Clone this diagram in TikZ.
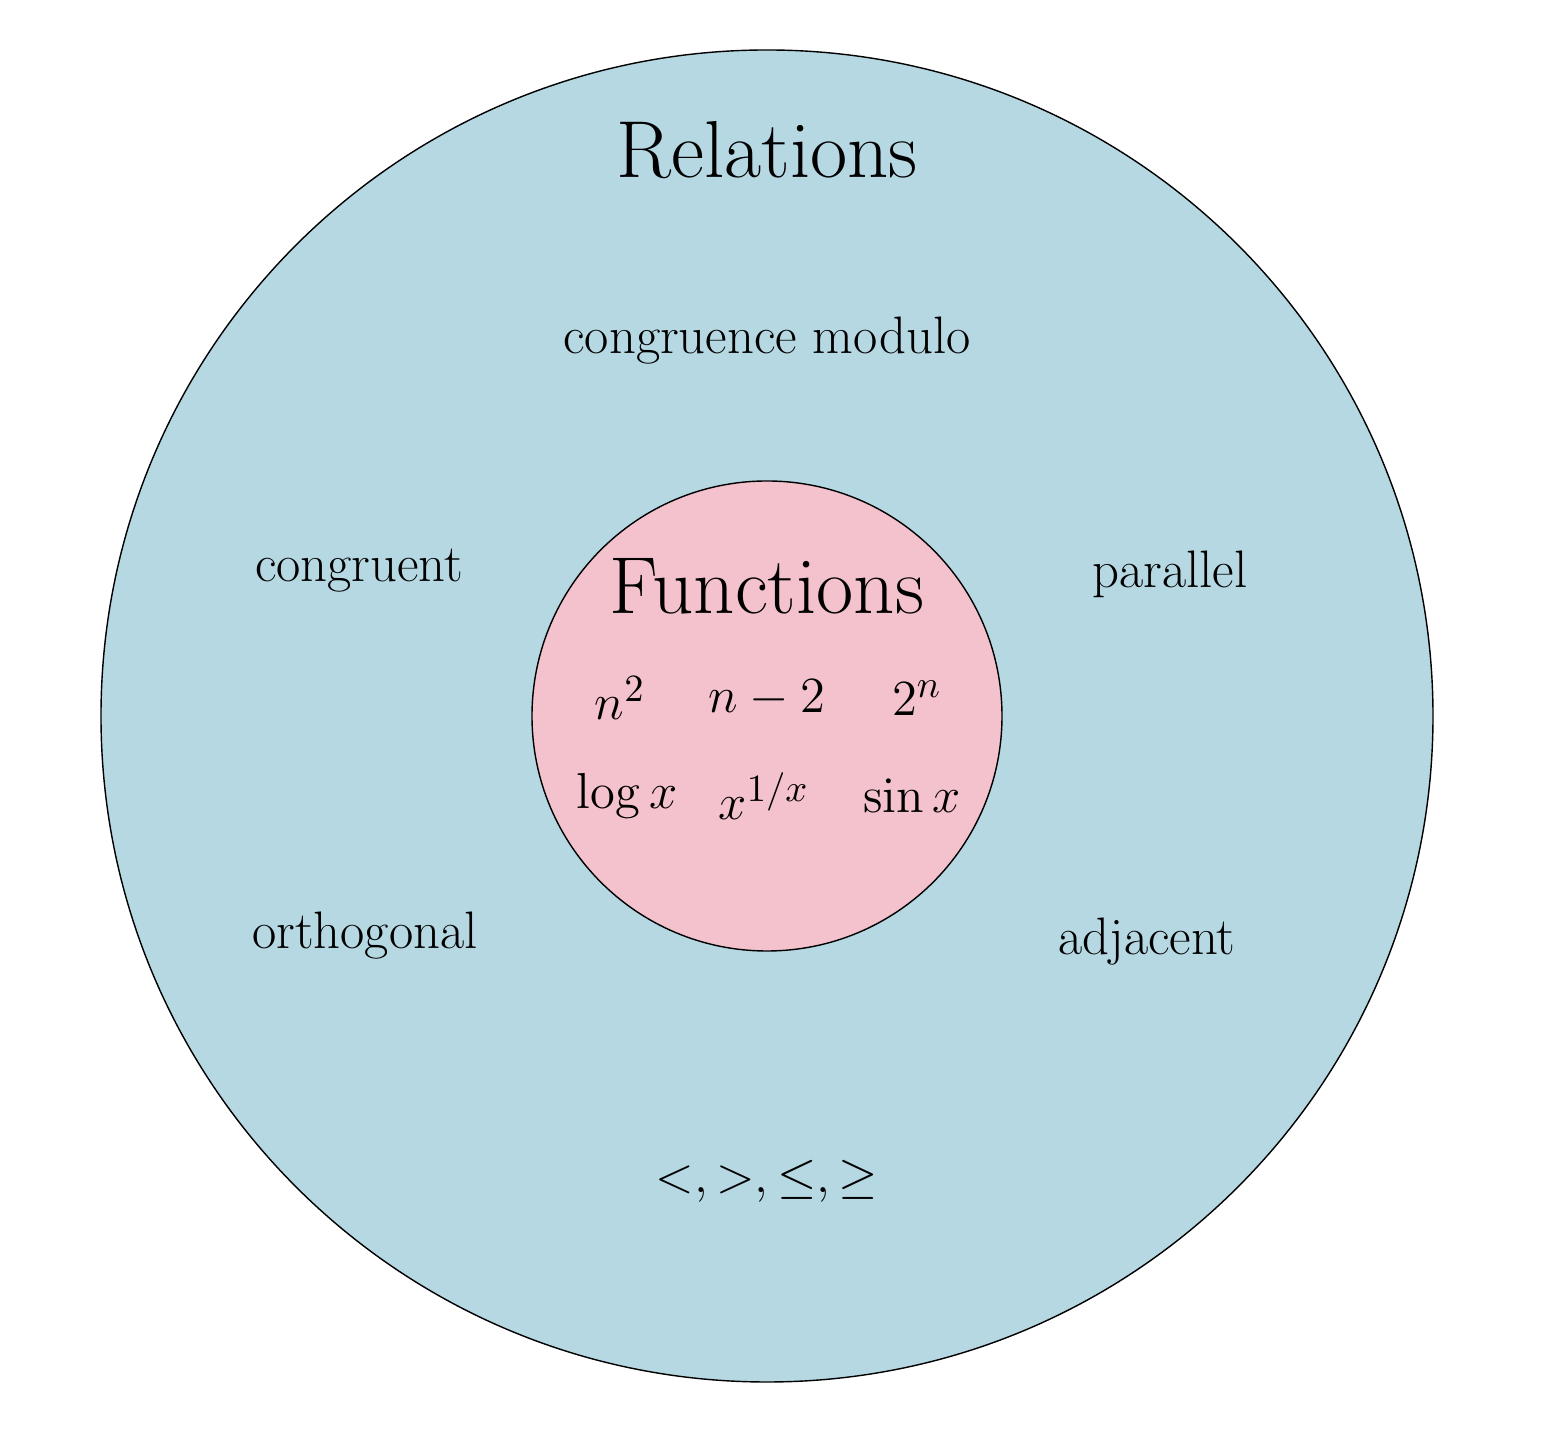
\documentclass[tikz,border=0pt]{standalone}
\usepackage{amsmath, amssymb}
\definecolor{relblue}{RGB}{182,216,227}
\definecolor{funpink}{RGB}{244,194,204}
\begin{document}
\begin{tikzpicture}[every node/.style={font=\fontsize{15}{18}\selectfont},
    title/.style={font=\fontsize{23}{27}\selectfont}]
            \useasboundingbox (-7.67,-7.20) rectangle (7.95,7.16);
            \draw[fill=relblue] (0,0) circle (6.66);
            \draw[fill=funpink] (0,0) circle (2.35);
            \draw
                (0,5.66) node[title] (rel) {Relations};
            \draw
                (0,3.75) node (cmod) {congruence modulo};
            \draw
                (-4.08,1.45) node (cong) {congruent};
            \draw
                (4.03,1.42) node (par) {parallel};
            \draw
                (-4.02,-2.2) node (orth) {orthogonal};
            \draw
                (3.8,-2.26) node (adj) {adjacent};
            \draw
                (0,-4.65) node (ineq) {$<, >, \leq, \geq$};
            \draw
                (0,1.3) node[title] (fun) {Functions};
            \draw
                (-1.47,0.18) node (sq) {$n^2$};
            \draw
                (0,0.18) node (sub) {$n-2$};
            \draw
                (1.5,0.18) node (pow) {$2^n$};
            \draw
                (-1.4,-0.8) node (log) {$\log x$};
            \draw
                (-0.03,-0.8) node (root) {$x^{1/x}$};
            \draw
                (1.45,-0.8) node (sin) {$\sin x$};
        \end{tikzpicture}
\end{document}
